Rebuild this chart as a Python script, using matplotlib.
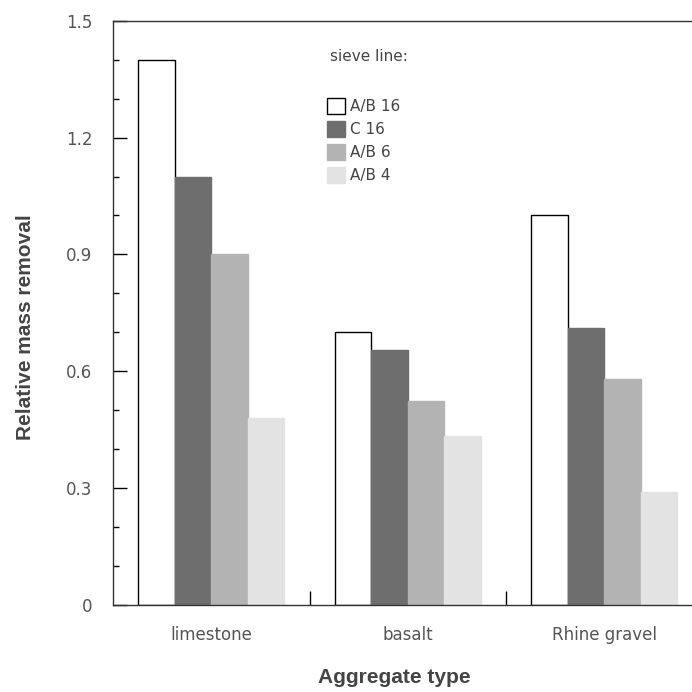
import numpy as np
import matplotlib
matplotlib.use("Agg")
import matplotlib.pyplot as plt
from matplotlib.patches import Patch
from matplotlib.ticker import MultipleLocator, FixedLocator

# Data
categories = ["limestone", "basalt", "Rhine gravel"]
series_names = ["A/B 16", "C 16", "A/B 6", "A/B 4"]
ab16 = [1.40, 0.70, 1.00]
c16 = [1.10, 0.655, 0.71]
ab6 = [0.90, 0.525, 0.58]
ab4 = [0.48, 0.435, 0.29]
y_ticks = [0, 0.3, 0.6, 0.9, 1.2, 1.5]
y_tick_labels = ["0", "0.3", "0.6", "0.9", "1.2", "1.5"]

plt.rcParams["font.family"] = ["DejaVu Sans"]

fig = plt.figure(figsize=(6.92, 6.92), dpi=100)
ax = fig.add_axes([0.1633, 0.1257, 0.852, 0.8444])

x = np.arange(len(categories))
width = 0.186
fills = ["white", "#6e6e6e", "#b3b3b3", "#e3e3e3"]
edges = ["black", "#6e6e6e", "#b3b3b3", "#e3e3e3"]
all_series = [ab16, c16, ab6, ab4]

for i, vals in enumerate(all_series):
    ax.bar(x - 1.5 * width + i * width, vals, width, color=fills[i],
           edgecolor=edges[i], linewidth=1.0)

ax.set_xlim(-0.5, 2.5)
ax.set_ylim(0, 1.5)

# y ticks
ax.set_yticks(y_ticks)
ax.set_yticklabels(y_tick_labels)
ax.yaxis.set_minor_locator(MultipleLocator(0.1))
ax.tick_params(axis="y", which="major", direction="in", length=10, width=1,
               labelsize=12, labelcolor="#555555", pad=15)
ax.tick_params(axis="y", which="minor", direction="in", length=4, width=1)

# x ticks: labels at groups, small ticks between groups
ax.set_xticks(x)
ax.set_xticklabels(categories)
ax.xaxis.set_minor_locator(FixedLocator([0.5, 1.5]))
ax.tick_params(axis="x", which="major", length=0, labelsize=12,
               labelcolor="#555555", pad=15)
ax.tick_params(axis="x", which="minor", direction="in", length=10, width=1)

for s in ax.spines.values():
    s.set_linewidth(1.0)
    s.set_color("#333333")

ax.set_ylabel("Relative mass removal", fontsize=15, fontweight="bold",
              color="#444444", family="Liberation Sans")
ax.yaxis.set_label_coords(-0.132, 0.476)
ax.set_xlabel("Aggregate type", fontsize=15, fontweight="bold",
              color="#444444", family="Liberation Sans")
ax.xaxis.set_label_coords(0.477, -0.108)

# legend
handles = [Patch(facecolor=fills[i], edgecolor=edges[i]) for i in range(4)]
fig.text(0.477, 0.918, "sieve line:", fontsize=11, color="#444444",
         va="center", ha="left")
fig.legend(handles, series_names, loc="upper left",
           bbox_to_anchor=(0.472, 0.858), frameon=False, fontsize=11,
           handlelength=1.2, handleheight=1.2, labelspacing=0.45,
           handletextpad=0.3, borderpad=0, borderaxespad=0,
           labelcolor="#444444")

fig.savefig("out.png", dpi=100)
